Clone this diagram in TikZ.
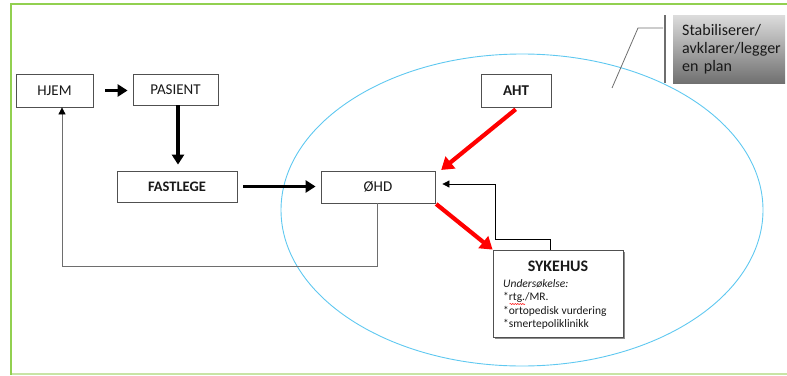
\documentclass[tikz,border=0pt]{standalone}
\usepackage{fontspec}
\setmainfont{Carlito}
\usetikzlibrary{arrows.meta,shadows,decorations.pathmorphing,calc}
\definecolor{frgreen}{RGB}{146,208,80}
\definecolor{frgreenl}{RGB}{200,228,165}
\definecolor{ellblue}{RGB}{95,200,240}
\definecolor{boxline}{RGB}{80,80,80}
\definecolor{thred}{RGB}{255,0,0}
\definecolor{leadgray}{RGB}{110,110,110}
\definecolor{calltop}{RGB}{220,220,220}
\definecolor{callbot}{RGB}{112,112,112}
\begin{document}
\begin{tikzpicture}[x=1pt,y=-1pt,
  box/.style={draw=boxline, line width=0.8pt, fill=white, inner sep=0pt, text=black!90, font=\fontsize{15}{17}\selectfont},
  thickarrow/.style={line width=3.5pt, -{Triangle[length=10pt,width=12pt]}},
  redarrow/.style={draw=thred, line width=4.2pt, -{Triangle[length=12pt,width=15pt]}},
  thinarrow/.style={line width=0.8pt, -{Triangle[length=7pt,width=7pt,color=black]}},
  smalltext/.style={anchor=base west, inner sep=0pt, text=black!90, font=\fontsize{11.5}{13}\selectfont},
]
\useasboundingbox (0,0) rectangle (787,375);
% frame
\draw[frgreen, line width=1.5pt] (11,4) -- (787,4);
\draw[frgreenl, line width=1.5pt] (11,374) -- (787,374);
\draw[frgreen, line width=2.5pt] (11,3) -- (11,375);
% ellipse
\draw[ellblue, line width=0.9pt] (522,210) ellipse [x radius=241pt, y radius=156pt];
% callout
\coordinate (bartop) at (665,15);
\coordinate (barbot) at (665,83);
\draw[leadgray, line width=1.6pt] (bartop) -- (barbot);
\coordinate (leadA) at (663,28);
\coordinate (leadB) at (638,28);
\coordinate (leadC) at (612,88);
\draw[leadgray, line width=0.8pt] (leadA) -- (leadB) -- (leadC);
\node[anchor=north west, minimum width=112pt, minimum height=68pt, top color=calltop, bottom color=callbot,
      text width=94pt, inner xsep=9pt, inner ysep=0pt, align=left, text=black!90,
      font=\fontsize{16}{18.3}\selectfont] (CALL) at (673,15) {Stabiliserer/\\avklarer/legger\\en plan};
% boxes
\node[box, minimum width=77pt, minimum height=33pt] (HJEM) at (54.5,90.5) {HJEM};
\node[box, minimum width=85pt, minimum height=31pt] (PASIENT) at (175.5,89.5) {PASIENT};
\node[box, minimum width=120pt, minimum height=31pt, font=\fontsize{14.5}{16}\selectfont\bfseries] (FASTLEGE) at (177,186.5) {FASTLEGE};
\node[box, minimum width=114pt, minimum height=32pt] (OHD) at (378,187) {ØHD};
\node[box, minimum width=70pt, minimum height=33pt, font=\fontsize{15}{16}\selectfont\bfseries] (AHT) at (516,90.5) {AHT};
\node[box, minimum width=130pt, minimum height=87pt,
      drop shadow={shadow xshift=1.5pt, shadow yshift=-1.5pt, fill=black!45, opacity=1}] (SYK) at (558,293.5) {};
\node[inner sep=0pt, text=black!90, font=\fontsize{16}{17}\selectfont\bfseries] (SYKT) at (558,266.5) {SYKEHUS};
\node[smalltext] (SYK1) at (503,287) {\itshape Undersøkelse:};
\node[smalltext] (SYK2) at (503,300.5) {*rtg./MR.};
\node[smalltext] (SYK3) at (503,314) {*ortopedisk vurdering};
\node[smalltext] (SYK4) at (503,327.5) {*smertepoliklinikk};
\coordinate (sqA) at (509.5,304);
\coordinate (sqB) at (525,304);
\draw[red, line width=0.5pt, decorate, decoration={snake, amplitude=0.6pt, segment length=2.5pt}] (sqA) -- (sqB);
% thick black arrows
\draw[thickarrow, shorten <=12pt, shorten >=5pt] (HJEM.east) -- (HJEM.east -| PASIENT.west);
\draw[thickarrow, shorten >=6pt] ([xshift=2.5pt]PASIENT.south) -- ([xshift=2.5pt]PASIENT.south |- FASTLEGE.north);
\draw[thickarrow, shorten <=6pt, shorten >=5pt] (FASTLEGE.east) -- (FASTLEGE.east -| OHD.west);
% red arrows
\draw[redarrow, shorten <=3pt, shorten >=1pt] ([xshift=2pt]AHT.south) -- ([xshift=5pt]OHD.north east);
\draw[redarrow, shorten <=1pt] (OHD.south east) -- (SYK.north west);
% thin connectors
\draw[thinarrow] ([xshift=-8pt]SYK.north) -- ++(0,-10) -- ++(-55,0) |- ([xshift=7pt,yshift=3pt]OHD.east);
\draw[thinarrow, draw=leadgray] ([xshift=-1pt]OHD.south) -- ++(0,63) -| ([xshift=7.5pt]HJEM.south);
\end{tikzpicture}
\end{document}
